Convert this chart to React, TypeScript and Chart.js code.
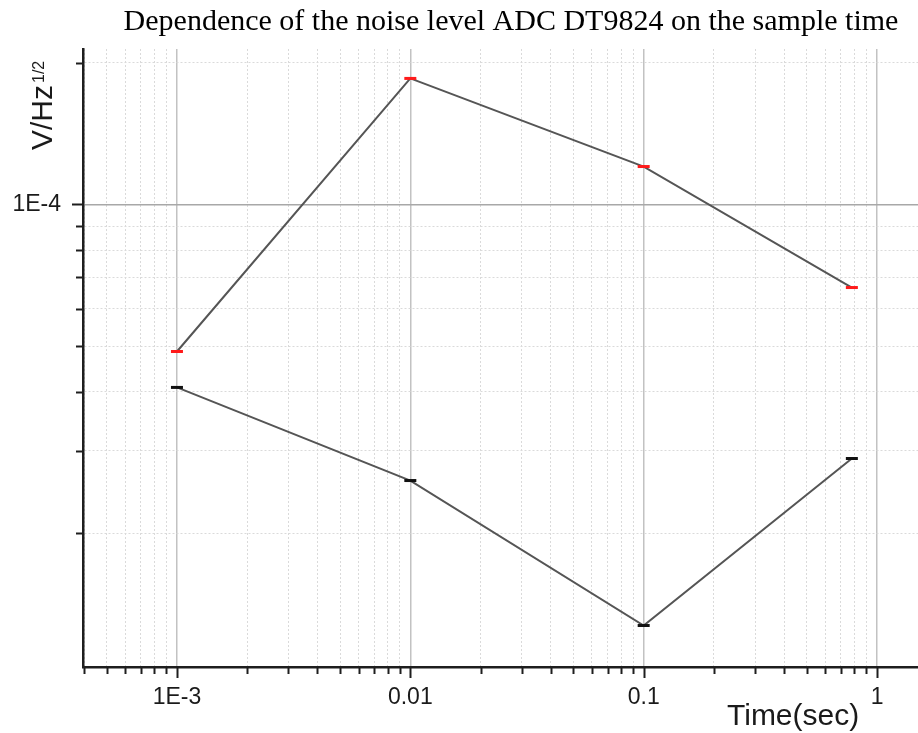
import React, { useEffect, useRef } from 'react';
import { Chart, registerables } from 'chart.js';

Chart.register(...registerables);

// ---- data ----
const sampleTimes = [0.001, 0.01, 0.1, 0.78];
const upperNoise = [4.87e-5, 1.853e-4, 1.204e-4, 6.66e-5];
const lowerNoise = [4.085e-5, 2.59e-5, 1.274e-5, 2.885e-5];

// ---- axes ----
const xMajorValues = [0.001, 0.01, 0.1, 1];
const xMajorLabels = ['1E-3', '0.01', '0.1', '1'];
const xDecades = [1e-4, 1e-3, 1e-2, 1e-1, 1];
const minorMultipliers = [2, 3, 4, 5, 6, 7, 8, 9];
const yTickValues = [2e-5, 3e-5, 4e-5, 5e-5, 6e-5, 7e-5, 8e-5, 9e-5, 1e-4, 2e-4];
const yMajorValues = [1e-4];
const yMajorLabels = ['1E-4'];

const X_MIN = 3.957e-4;
const X_MAX = 1.498;
const Y_MIN = 1.04e-5;
const Y_MAX = 2.14e-4;

const titleText = 'Dependence of the noise level ADC DT9824 on the sample time';
const xTitle = 'Time(sec)';
const yTitleMain = 'V/Hz';
const yTitleSup = '1/2';

const near = (a: number, b: number) => Math.abs(a - b) / Math.abs(b) < 1e-6;
const isDecade = (v: number) => Math.abs(Math.log10(v) - Math.round(Math.log10(v))) < 1e-6;

function buildXTicks(): number[] {
  const out: number[] = [];
  xDecades.forEach((d) => {
    out.push(d);
    minorMultipliers.forEach((m) => out.push(d * m));
  });
  return out.filter((v) => v >= X_MIN * 0.999 && v <= X_MAX).sort((a, b) => a - b);
}

const SANS = '"Liberation Sans", Arial, sans-serif';
const SERIF = '"Liberation Serif", "Times New Roman", serif';

const decorPlugin = {
  id: 'decor',
  afterDraw(chart: any) {
    const { ctx, chartArea, scales } = chart;
    const xs = scales.x;
    const ys = scales.y;
    ctx.save();
    ctx.strokeStyle = '#1e1e1e';
    ctx.lineWidth = 2;
    xs.ticks.forEach((t: any) => {
      const px = Math.round(xs.getPixelForValue(t.value)) + 0.5;
      const len = isDecade(t.value) ? 11 : 7;
      ctx.beginPath();
      ctx.moveTo(px, chartArea.bottom);
      ctx.lineTo(px, chartArea.bottom + len);
      ctx.stroke();
    });
    ys.ticks.forEach((t: any) => {
      const py = Math.round(ys.getPixelForValue(t.value)) + 0.5;
      const len = isDecade(t.value) ? 11 : 7;
      ctx.beginPath();
      ctx.moveTo(chartArea.left, py);
      ctx.lineTo(chartArea.left - len, py);
      ctx.stroke();
    });

    // title
    ctx.fillStyle = '#000';
    ctx.font = `30px ${SERIF}`;
    ctx.textAlign = 'center';
    ctx.textBaseline = 'alphabetic';
    ctx.fillText(titleText, 511, 30);

    // x title
    ctx.fillStyle = '#1a1a1a';
    ctx.font = `30px ${SANS}`;
    ctx.textAlign = 'left';
    ctx.fillText(xTitle, 727, 725);

    // y title (rotated, with superscript)
    ctx.translate(52, 150);
    ctx.rotate(-Math.PI / 2);
    ctx.font = `30px ${SANS}`;
    ctx.fillText(yTitleMain, 0, 0);
    const w = ctx.measureText(yTitleMain).width;
    ctx.font = `16px ${SANS}`;
    ctx.fillText(yTitleSup, w + 2, -8);
    ctx.restore();
  },
};

export default function App() {
  const canvasRef = useRef<HTMLCanvasElement | null>(null);

  useEffect(() => {
    if (!canvasRef.current) return;
    const xTicks = buildXTicks();

    const chart = new Chart(canvasRef.current, {
      type: 'line',
      data: {
        datasets: [
          {
            label: 'upper',
            data: sampleTimes.map((t, i) => ({ x: t, y: upperNoise[i] })),
            borderColor: '#555555',
            borderWidth: 2,
            pointStyle: 'line',
            pointRadius: 6,
            pointBorderWidth: 3,
            pointBorderColor: '#ff1a1a',
            pointBackgroundColor: '#ff1a1a',
            fill: false,
            tension: 0,
            clip: false,
          },
          {
            label: 'lower',
            data: sampleTimes.map((t, i) => ({ x: t, y: lowerNoise[i] })),
            borderColor: '#555555',
            borderWidth: 2,
            pointStyle: 'line',
            pointRadius: 6,
            pointBorderWidth: 3,
            pointBorderColor: '#111111',
            pointBackgroundColor: '#111111',
            fill: false,
            tension: 0,
            clip: false,
          },
        ],
      },
      options: {
        responsive: false,
        animation: false,
        events: [],
        layout: { autoPadding: false, padding: { top: 49, left: 0, right: 0, bottom: 0 } },
        plugins: {
          legend: { display: false },
          title: { display: false },
          tooltip: { enabled: false },
        },
        scales: {
          x: {
            type: 'logarithmic',
            min: X_MIN,
            max: X_MAX,
            afterBuildTicks: (scale: any) => {
              scale.ticks = xTicks.map((v) => ({ value: v, major: isDecade(v) }));
            },
            afterFit: (scale: any) => {
              scale.height = 66;
              scale.paddingLeft = 0;
              scale.paddingRight = 0;
            },
            ticks: {
              autoSkip: false,
              maxRotation: 0,
              minRotation: 0,
              padding: 17,
              color: '#1a1a1a',
              font: { family: SANS, size: 23 },
              callback: (value: any) => {
                const idx = xMajorValues.findIndex((m) => near(Number(value), m));
                return idx >= 0 ? xMajorLabels[idx] : '';
              },
            },
            grid: {
              drawTicks: false,
              color: (ctx: any) => (ctx.tick && isDecade(ctx.tick.value) ? '#c2c2c2' : '#dadada'),
              lineWidth: (ctx: any) => (ctx.tick && isDecade(ctx.tick.value) ? 1.5 : 1),
            },
            border: {
              display: true,
              color: '#1e1e1e',
              width: 2.5,
              dash: (ctx: any) => (ctx.tick && !isDecade(ctx.tick.value) ? [2, 2] : []),
            },
          },
          y: {
            type: 'logarithmic',
            min: Y_MIN,
            max: Y_MAX,
            afterBuildTicks: (scale: any) => {
              scale.ticks = yTickValues.map((v) => ({ value: v, major: isDecade(v) }));
            },
            afterFit: (scale: any) => {
              scale.width = 83;
              scale.paddingTop = 0;
              scale.paddingBottom = 0;
            },
            ticks: {
              autoSkip: false,
              padding: 22,
              color: '#1a1a1a',
              font: { family: SANS, size: 23 },
              callback: (value: any) => {
                const idx = yMajorValues.findIndex((m) => near(Number(value), m));
                return idx >= 0 ? yMajorLabels[idx] : '';
              },
            },
            grid: {
              drawTicks: false,
              color: (ctx: any) => (ctx.tick && isDecade(ctx.tick.value) ? '#a8a8a8' : '#dadada'),
              lineWidth: (ctx: any) => (ctx.tick && isDecade(ctx.tick.value) ? 1.5 : 1),
            },
            border: {
              display: true,
              color: '#1e1e1e',
              width: 2.5,
              dash: (ctx: any) => (ctx.tick && !isDecade(ctx.tick.value) ? [2, 2] : []),
            },
          },
        },
      } as any,
      plugins: [decorPlugin],
    });

    return () => chart.destroy();
  }, []);

  return (
    <div style={{ position: 'absolute', left: 0, top: 0, width: 918, height: 733, background: '#fff' }}>
      <canvas ref={canvasRef} width={918} height={733} style={{ display: 'block' }} />
    </div>
  );
}
